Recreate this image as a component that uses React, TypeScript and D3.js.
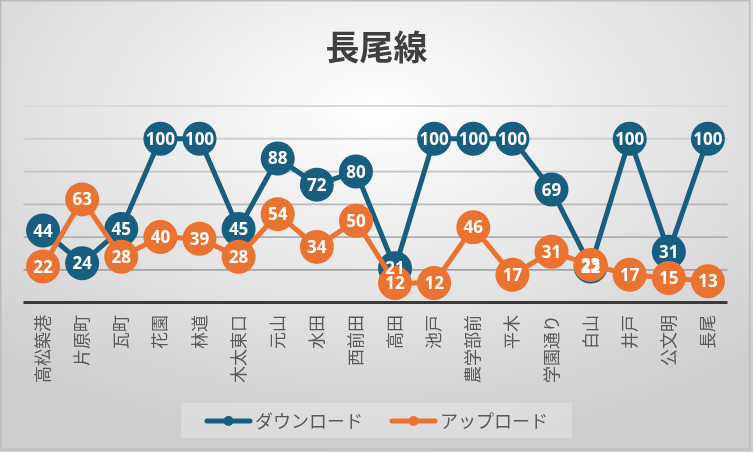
import React from "react";
import * as d3 from "d3";

const categories = ["高松築港", "片原町", "瓦町", "花園", "林道", "木太東口", "元山", "水田", "西前田", "高田", "池戸", "農学部前", "平木", "学園通り", "白山", "井戸", "公文明", "長尾"];
const download = [44, 24, 45, 100, 100, 45, 88, 72, 80, 21, 100, 100, 100, 69, 22, 100, 31, 100];
const upload = [22, 63, 28, 40, 39, 28, 54, 34, 50, 12, 12, 46, 17, 31, 23, 17, 15, 13];
const yTicks = [0, 20, 40, 60, 80, 100, 120];
const seriesNames = ["ダウンロード", "アップロード"];
const colors = ["#185E80", "#EB7331"];
const title = "長尾線";

const W = 753, H = 452;
const plot = { left: 23.5, right: 727.5, top: 106, bottom: 302.6 };
const FONT = "'Noto Sans CJK JP', 'Open Sans', sans-serif";
const NUMFONT = "'Open Sans', 'Liberation Sans', sans-serif";

export default function App() {
  const x = d3.scaleBand<string>().domain(categories).range([plot.left, plot.right]);
  const y = d3.scaleLinear().domain([0, 120]).range([plot.bottom, plot.top]);
  const cx = (c: string) => (x(c) as number) + x.bandwidth() / 2;
  const line = d3.line<number>().x((_, i) => cx(categories[i])).y((v) => y(v));
  const series = [download, upload];
  const gridColor = d3.scaleLinear<string>().domain([20, 120]).range(["#a3a3a3", "#dadada"]);

  return (
    <svg width={W} height={H} style={{ position: "fixed", left: 0, top: 0 }}>
      <defs>
        <radialGradient id="bg" cx="50%" cy="25%" r="75%">
          <stop offset="0%" stopColor="#ffffff" />
          <stop offset="100%" stopColor="#cdcdcd" />
        </radialGradient>
      </defs>
      <rect x={0} y={0} width={W} height={H} fill="url(#bg)" />
      <rect x={0.75} y={0.75} width={W - 4} height={H - 3.5} fill="none" stroke="#bcbcbc" strokeWidth={1.5} />
      <text x={W / 2} y={60} textAnchor="middle" fontFamily={FONT} fontWeight="bold" fontSize={34} fill="#404040">{title}</text>
      {yTicks.filter((t) => t > 0).map((t) => (
        <line key={t} x1={plot.left} x2={plot.right} y1={y(t)} y2={y(t)} stroke={gridColor(t)} strokeWidth={1.8} />
      ))}
      <line x1={plot.left} x2={plot.right} y1={y(0)} y2={y(0)} stroke="#3a3a3a" strokeWidth={3} />
      {categories.map((c) => (
        <text key={c} transform={`translate(${cx(c) + 6},${315}) rotate(-90)`} fontFamily={FONT} fontSize={17} fill="#595959" textAnchor="end">{c}</text>
      ))}
      {series.map((s, si) => (
        <g key={si}>
          <path d={line(s) as string} fill="none" stroke={colors[si]} strokeWidth={5} strokeLinejoin="round" />
          {s.map((v, i) => (
            <circle key={i} cx={cx(categories[i])} cy={y(v)} r={17} fill={colors[si]} />
          ))}
        </g>
      ))}
      {series.map((s, si) => (
        <g key={"l" + si}>
          {s.map((v, i) => (
            <text key={i} x={cx(categories[i])} y={y(v) + 6} textAnchor="middle" fontFamily={NUMFONT} fontWeight="bold" fontSize={17} fill="#ffffff">{v}</text>
          ))}
        </g>
      ))}
      <rect x={181} y={403} width={391} height={35} fill="#ffffff" fillOpacity={0.25} />
      {seriesNames.map((n, i) => {
        const lx = i === 0 ? 207 : 392;
        return (
          <g key={n}>
            <line x1={lx} x2={lx + 43} y1={421} y2={421} stroke={colors[i]} strokeWidth={5} strokeLinecap="round" />
            <circle cx={lx + 21.5} cy={421} r={5} fill={colors[i]} />
            <text x={lx + 48} y={427.5} fontFamily={FONT} fontSize={18} fill="#595959">{n}</text>
          </g>
        );
      })}
    </svg>
  );
}
